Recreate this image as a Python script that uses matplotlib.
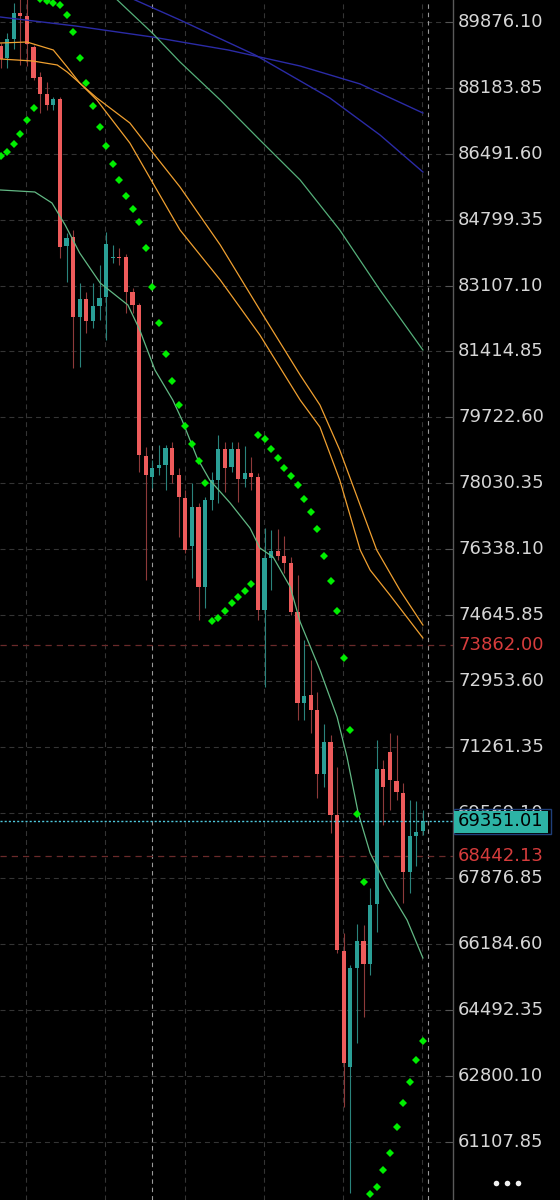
import matplotlib
matplotlib.use("Agg")
import matplotlib.pyplot as plt
import numpy as np
from matplotlib.patches import Rectangle
import matplotlib.transforms as mtransforms

# ---------------- data ----------------
opens = [89260, 88951, 89439, 90107, 90030, 89234, 88463, 88027, 87744, 87898,
         84122, 84354, 82299, 82761, 82196, 82581, 82812, 83814, 83840, 83840,
         82941, 82607, 78728, 78189, 78420, 78497, 78934, 78240, 77650, 76417,
         77418, 75364, 77598, 78112, 78908, 78446, 78908, 78138, 78292, 78189,
         74773, 76108, 76288, 76160, 75980, 74721, 72384, 72589, 72204, 70561,
         71382, 69507, 66014, 63034, 65577, 66271, 65680, 67221, 70689, 71125,
         70380, 70072, 68043, 68968, 69096]
highs = [89337, 89594, 90364, 90646, 90646, 89285, 88592, 88335, 87950, 87950,
         84456, 84533, 83172, 82941, 83172, 83634, 84482, 84148, 84071, 83917,
         83044, 82658, 78960, 78626, 79011, 79011, 79088, 78420, 77855, 78035,
         77521, 77675, 78317, 79268, 79088, 79088, 79088, 78985, 78703, 78292,
         76879, 76828, 76853, 76673, 76134, 75672, 74002, 73488, 72667, 71845,
         71562, 70740, 66476, 65654, 66707, 66682, 67632, 71434, 70920, 71613,
         71562, 70329, 69892, 69867, 69636]
lows = [88695, 88695, 89183, 88772, 88746, 88386, 87539, 87616, 87616, 83814,
        83198, 80989, 81014, 81888, 82016, 82222, 81708, 83686, 83634, 82401,
        82401, 78317, 75543, 77906, 78240, 77855, 78035, 76648, 76237, 75595,
        74516, 74824, 77341, 77521, 77804, 78317, 77547, 77932, 77855, 74516,
        72795, 75287, 76057, 75723, 74644, 71947, 71947, 71613, 69944, 70226,
        69045, 65962, 62007, 59798, 63651, 64319, 65397, 66502, 69250, 69636,
        69892, 67247, 67504, 68197, 68993]
closes = [88926, 89439, 90107, 90030, 89311, 88438, 88027, 87744, 87898, 84097,
          84328, 82299, 82761, 82196, 82581, 82787, 84174, 83840, 83814, 82941,
          82607, 78754, 78240, 78420, 78497, 78934, 78240, 77675, 76314, 77418,
          75364, 77598, 78112, 78908, 78420, 78908, 78138, 78292, 78189, 74773,
          76108, 76288, 76160, 75980, 74721, 72384, 72564, 72204, 70561, 71382,
          69507, 66040, 63137, 65577, 66271, 65680, 67195, 70689, 70226, 70406,
          70098, 68043, 68968, 69070, 69351.01]

sar = [86434, 86537, 86742, 86999, 87359, 87667,
       90467, 90416, 90364, 90313, 90056, 89619, 88951, 88309, 87719, 87179,
       86691, 86229, 85818, 85407, 85073, 84739, 84071, 83069, 82145, 81348,
       80655, 80038, 79499, 79037, 78600, 78035,
       74490, 74567, 74747, 74953, 75107, 75261, 75441,
       79268, 79165, 78908, 78677, 78420, 78215, 77984, 77624, 77290, 76853,
       76160, 75518, 74747, 73540, 71690, 69533, 67786,
       59772, 59952, 60389, 60825, 61493, 62110, 62649, 63214, 63702]

blue_slow_x = [0, 11.4, 23, 34.5, 45.4, 54.5, 64]
blue_slow_y = [90004, 89773, 89491, 89157, 88746, 88284, 87539]
blue_fast_x = [15.1, 20.4, 27.2, 38.6, 49.9, 57.5, 64]
blue_fast_y = [90826, 90441, 89928, 89028, 87924, 86974, 86023]
green_top_x = [15.1, 17.7, 23, 27.2, 33.3, 39.3, 45.4, 51.4, 57.5, 64]
green_top_y = [90878, 90441, 89594, 88849, 87873, 86845, 85818, 84533, 82992, 81451]
orange_a_x = [0, 4, 8, 10.1, 12, 14.6, 19.6, 23, 27.2, 33.3, 39.3, 45.4, 48.4,
              51.4, 54.5, 56, 59, 64]
orange_a_y = [89337, 89362, 89157, 88720, 88309, 87873, 86768, 85766, 84533,
              83249, 81836, 80167, 79473, 78112, 76314, 75800, 75158, 74054]
orange_b_x = [0, 4.9, 8.6, 10.1, 12, 14.6, 19.6, 23, 27.2, 33.3, 39.3, 45.4,
              48.4, 51.4, 57, 60.5, 64]
orange_b_y = [88926, 88874, 88772, 88592, 88309, 87924, 87282, 86537, 85638,
              84148, 82479, 80809, 80038, 78883, 76314, 75287, 74387]
green_low_x = [0, 5.2, 7.8, 9.8, 12, 15.1, 19.3, 21.1, 23.4, 26.1, 27.5, 29.8,
               31.7, 34.8, 37.8, 39.3, 41.3, 43.9, 45.4, 48.4, 51, 52.5, 54.2,
               56, 58.6, 61.6, 64]
green_low_y = [85561, 85510, 85227, 84662, 83943, 83172, 82607, 81965, 80937,
               80167, 79653, 78677, 78112, 77521, 76879, 76365, 76134, 75364,
               74465, 73232, 72024, 70997, 69559, 68531, 67658, 66810, 65834]

tick_labels = ["89876.10", "88183.85", "86491.60", "84799.35", "83107.10",
               "81414.85", "79722.60", "78030.35", "76338.10", "74645.85",
               "72953.60", "71261.35", "69569.10", "67876.85", "66184.60",
               "64492.35", "62800.10", "61107.85"]
hidden_label = "69569.10"          # partly covered by the last-price box
red_levels = [73862.00, 68442.13]
last_price = 69351.01

# ---------------- styling ----------------
W, H = 560, 1200
AX_W = 453
PX_PER_BAR = 6.6
RED, TEAL = '#ee5b5b', '#2a9f96'
RED_W, TEAL_W = '#8e3a3a', '#2a837c'
FONT = dict(fontsize=13, va='center', ha='left', family='DejaVu Sans')

fig = plt.figure(figsize=(W / 100, H / 100), dpi=100, facecolor='black')
ax = fig.add_axes([0, 0, AX_W / W, 1])
ax.set_facecolor('black')
ax.set_ylim(59618.0, 90441.2)
x0 = -0.5 / PX_PER_BAR
ax.set_xlim(x0, x0 + AX_W / PX_PER_BAR)
for s in ax.spines.values():
    s.set_visible(False)
ax.set_xticks([])
ax.set_yticks([])

tick_vals = [float(t) for t in tick_labels]

# grid
ax.hlines(tick_vals, x0, x0 + AX_W / PX_PER_BAR, colors='#343434',
          linestyles=[(0, (4.5, 3.5))], lw=0.8, zorder=0)
for gx in [3.9, 15.9, 27.9, 39.9, 51.9, 63.9]:
    ax.axvline(gx, color='#343434', ls=(0, (4.5, 3.5)), lw=0.8, zorder=0)
for gx in [22.95, 64.8]:
    ax.axvline(gx, color='#9a9a9a', ls=(0, (4, 3.5)), lw=0.8, zorder=0)
for rl in red_levels:
    ax.axhline(rl, color='#6a2a2a', ls=(0, (5, 4)), lw=0.9, zorder=0)

# candles
o = np.array(opens, float); h = np.array(highs, float)
l = np.array(lows, float); c = np.array(closes, float)
idx = np.arange(len(o))
up = c >= o
ax.vlines(idx, l, h, colors=np.where(up, TEAL_W, RED_W), lw=0.8, zorder=2)
ax.bar(idx, np.maximum(np.abs(c - o), 30), bottom=np.minimum(o, c), width=0.64,
       color=np.where(up, TEAL, RED), linewidth=0, zorder=3)

# moving averages
ax.plot(blue_slow_x, blue_slow_y, color='#2b2ba6', lw=1.0, zorder=4)
ax.plot(blue_fast_x, blue_fast_y, color='#2b2ba6', lw=1.0, zorder=4)
ax.plot(green_top_x, green_top_y, color='#55b07a', lw=0.9, zorder=4)
ax.plot(orange_a_x, orange_a_y, color='#f0a030', lw=0.9, zorder=4)
ax.plot(orange_b_x, orange_b_y, color='#f0a030', lw=0.9, zorder=4)
ax.plot(green_low_x, green_low_y, color='#62b884', lw=0.9, zorder=4)

# parabolic SAR
ax.plot(idx, sar, ls='none', marker='D', ms=4.0, color='#00ee00', mew=0, zorder=5)

# last price line
ax.axhline(last_price, color='#4fc8dc', ls=(0, (1.5, 1.5)), lw=1.0, zorder=5)

# overlay in pixel x coords; y shares the price scale via a blended transform
ov = fig.add_axes([0, 0, 1, 1], facecolor='none')
ov.set_xlim(0, W)
ov.set_ylim(H, 0)
ov.axis('off')
trans = mtransforms.blended_transform_factory(ov.transData, ax.transData)

ov.axvline(AX_W, color='#5a5a5a', lw=1.0, zorder=1)
for tv, tl in zip(tick_vals, tick_labels):
    ov.plot([446, AX_W], [tv, tv], transform=trans, color='#555555', lw=0.8, zorder=1)
    if tl == hidden_label:
        ov.text(458, tv, tl, transform=trans, color='#d6d6d6', zorder=1, **FONT)
    else:
        fig.text(458 / W, 0, tl, color='#d6d6d6', **FONT)
        fig.texts[-1].set_transform(trans)
        fig.texts[-1].set_position((458, tv))
for rl in red_levels:
    t = fig.text(0, 0, f"{rl:.2f}", color='#d63c3c', **FONT)
    t.set_transform(trans)
    t.set_position((458, rl))

# last-price box (covers the hidden tick label like the reference)
ov.add_patch(Rectangle((454, 809), 97, 25, facecolor='none', edgecolor='#1f3f7a',
                       lw=1.0, zorder=2))
ov.add_patch(Rectangle((454, 811), 94, 22, facecolor='#2db3a5', edgecolor='none',
                       zorder=2))
ov.text(458, last_price, f"{last_price:.2f}", transform=trans, color='#000000',
        zorder=3, **FONT)

ov.plot([496, 507, 518], [1183, 1183, 1183], ls='none', marker='o', ms=4.0,
        color='#f0f0f0', mew=0)

fig.savefig('out.png', dpi=100, facecolor='black')
